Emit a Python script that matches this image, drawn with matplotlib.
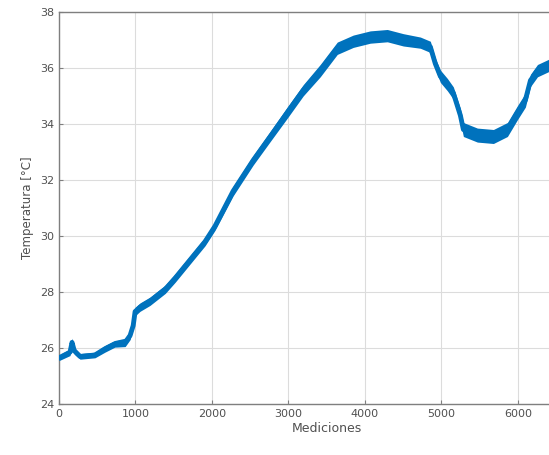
import matplotlib
matplotlib.use("Agg")
import matplotlib.pyplot as plt
import numpy as np

mediciones = [0, 144, 170, 200, 275, 470, 600, 730, 865, 930, 970, 995, 1060, 1190,
              1390, 1520, 1715, 1910, 2040, 2277, 2539, 2762, 2984, 3194, 3416, 3639,
              3848, 4070, 4293, 4503, 4725, 4856, 4921, 4987, 5079, 5157, 5249, 5288,
              5471, 5681, 5864, 5995, 6099, 6165, 6257, 6414]
temperatura = [25.65, 25.85, 26.2, 25.9, 25.7, 25.75, 25.97, 26.15, 26.2, 26.45, 26.8,
               27.3, 27.46, 27.67, 28.1, 28.5, 29.15, 29.8, 30.35, 31.6, 32.7, 33.55,
               34.4, 35.2, 35.9, 36.7, 36.95, 37.1, 37.15, 37.0, 36.9, 36.75, 36.15,
               35.7, 35.4, 35.1, 34.3, 33.8, 33.6, 33.55, 33.8, 34.4, 34.85, 35.55,
               35.9, 36.1]
# half width of the noisy band around the trace
dispersion = [0.1, 0.12, 0.15, 0.12, 0.1, 0.1, 0.12, 0.12, 0.15, 0.15, 0.1, 0.15, 0.15,
              0.15, 0.15, 0.15, 0.15, 0.15, 0.15, 0.17, 0.17, 0.18, 0.2, 0.2, 0.22,
              0.22, 0.22, 0.22, 0.22, 0.22, 0.2, 0.2, 0.2, 0.22, 0.22, 0.22, 0.25,
              0.25, 0.25, 0.25, 0.25, 0.25, 0.25, 0.22, 0.22, 0.22]

x_ticks = [0, 1000, 2000, 3000, 4000, 5000, 6000]
y_ticks = [24, 26, 28, 30, 32, 34, 36, 38]

x = np.array(mediciones)
t = np.array(temperatura)
d = np.array(dispersion)

color = "#0072BD"
fig = plt.figure(figsize=(5.49, 4.55), dpi=100)
ax = fig.add_axes([0.1075, 0.112, 0.975, 0.862])
ax.fill_between(x, t - d, t + d, color=color, linewidth=0, zorder=3)
ax.plot(x, t, color=color, linewidth=3.5, zorder=4)

ax.set_xlim(0, 7000)
ax.set_ylim(24, 38)
ax.set_xticks(x_ticks)
ax.set_yticks(y_ticks)
ax.grid(True, color="#dcdcdc", linewidth=0.8)
ax.set_axisbelow(True)
for s in ax.spines.values():
    s.set_color("#7f7f7f")
    s.set_linewidth(1.0)
ax.tick_params(direction="in", length=3, colors="#7f7f7f", labelcolor="#505050",
               labelsize=8)
ax.set_xlabel("Mediciones", fontsize=9, color="#505050", labelpad=2)
ax.set_ylabel("Temperatura [°C]", fontsize=8.5, color="#505050", labelpad=4)

fig.savefig("out.png", dpi=100)
